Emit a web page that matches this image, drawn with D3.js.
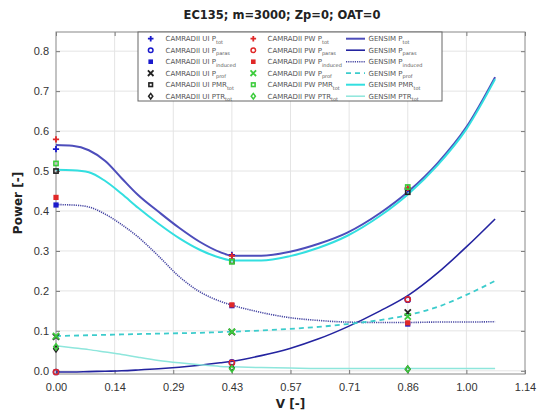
<!DOCTYPE html>
<html>
<head>
<meta charset="utf-8">
<script src="https://cdn.jsdelivr.net/npm/d3@7"></script>
<style>
  body { margin: 0; background: #fff; }
  svg { display: block; font-family: 'DejaVu Sans', sans-serif; }
</style>
</head>
<body>
<svg width="547" height="414"></svg>
<script>
// GENSIM curves, sampled along V
const curveV = [0, 0.04, 0.08, 0.12, 0.16, 0.2, 0.25, 0.3, 0.35, 0.4, 0.43, 0.5, 0.57, 0.64, 0.71, 0.79, 0.86, 0.93, 1.0, 1.07]
const gensimPtot = [0.565, 0.563, 0.552, 0.525, 0.482, 0.44, 0.398, 0.358, 0.323, 0.297, 0.288, 0.288, 0.298, 0.318, 0.346, 0.395, 0.45, 0.52, 0.61, 0.735]
const gensimParas = [-0.003, -0.003, -0.002, -0.001, 0.0, 0.002, 0.005, 0.009, 0.014, 0.02, 0.024, 0.038, 0.056, 0.08, 0.11, 0.15, 0.19, 0.245, 0.31, 0.38]
const gensimInduced = [0.416, 0.415, 0.41, 0.392, 0.366, 0.335, 0.287, 0.236, 0.198, 0.174, 0.164, 0.146, 0.133, 0.126, 0.122, 0.121, 0.121, 0.122, 0.122, 0.123]
const gensimProf = [0.087, 0.088, 0.089, 0.09, 0.091, 0.092, 0.093, 0.094, 0.095, 0.097, 0.098, 0.101, 0.105, 0.11, 0.117, 0.127, 0.14, 0.16, 0.19, 0.225]
const gensimPMR = [0.503, 0.502, 0.497, 0.475, 0.443, 0.408, 0.368, 0.332, 0.303, 0.283, 0.276, 0.276, 0.287, 0.308, 0.338, 0.388, 0.444, 0.515, 0.605, 0.73]
const gensimPTR = [0.063, 0.058, 0.053, 0.047, 0.041, 0.034, 0.026, 0.02, 0.015, 0.011, 0.01, 0.008, 0.007, 0.006, 0.006, 0.006, 0.006, 0.006, 0.006, 0.006]

// CAMRADII points
const pointV = [0, 3 / 7, 6 / 7]
const uiPtot = [0.555, 0.29, 0.455]
const uiParas = [-0.003, 0.021, 0.178]
const uiInduced = [0.415, 0.163, 0.117]
const uiProf = [0.085, 0.097, 0.146]
const uiPMR = [0.5, 0.274, 0.447]
const uiPTR = [0.055, 0.007, 0.004]
const pwPtot = [0.579, 0.288, 0.458]
const pwParas = [-0.003, 0.02, 0.179]
const pwInduced = [0.434, 0.165, 0.12]
const pwProf = [0.087, 0.098, 0.136]
const pwPMR = [0.519, 0.273, 0.46]
const pwPTR = [0.06, 0.005, 0.004]

const xTicks = [0, 1, 2, 3, 4, 5, 6, 7, 8].map(i => i / 7)
const yTicks = [0, 0.1, 0.2, 0.3, 0.4, 0.5, 0.6, 0.7, 0.8]

const lines = [
  {name: 'GENSIM P', sub: 'tot', values: gensimPtot, color: '#4d4dbb', width: 2, dash: null},
  {name: 'GENSIM P', sub: 'paras', values: gensimParas, color: '#2424a0', width: 1.6, dash: null},
  {name: 'GENSIM P', sub: 'induced', values: gensimInduced, color: '#4848a4', width: 1.6, dash: '1.2,1'},
  {name: 'GENSIM P', sub: 'prof', values: gensimProf, color: '#3ccccc', width: 1.8, dash: '5,4'},
  {name: 'GENSIM PMR', sub: 'tot', values: gensimPMR, color: '#33dfe0', width: 2, dash: null},
  {name: 'GENSIM PTR', sub: 'tot', values: gensimPTR, color: '#8ee6dc', width: 1.5, dash: null}
]

const uiSeries = [
  {name: 'CAMRADII UI P', sub: 'tot', values: uiPtot, shape: 'plus', color: '#1a1acc'},
  {name: 'CAMRADII UI P', sub: 'paras', values: uiParas, shape: 'circle', color: '#1a1acc'},
  {name: 'CAMRADII UI P', sub: 'induced', values: uiInduced, shape: 'fsquare', color: '#1a1acc'},
  {name: 'CAMRADII UI P', sub: 'prof', values: uiProf, shape: 'x', color: '#222'},
  {name: 'CAMRADII UI PMR', sub: 'tot', values: uiPMR, shape: 'square', color: '#222'},
  {name: 'CAMRADII UI PTR', sub: 'tot', values: uiPTR, shape: 'diamond', color: '#222'}
]
const pwSeries = [
  {name: 'CAMRADII PW P', sub: 'tot', values: pwPtot, shape: 'plus', color: '#e02828'},
  {name: 'CAMRADII PW P', sub: 'paras', values: pwParas, shape: 'circle', color: '#e02828'},
  {name: 'CAMRADII PW P', sub: 'induced', values: pwInduced, shape: 'fsquare', color: '#e02828'},
  {name: 'CAMRADII PW P', sub: 'prof', values: pwProf, shape: 'x', color: '#3ccc3c'},
  {name: 'CAMRADII PW PMR', sub: 'tot', values: pwPMR, shape: 'square', color: '#3ccc3c'},
  {name: 'CAMRADII PW PTR', sub: 'tot', values: pwPTR, shape: 'diamond', color: '#3ccc3c'}
]

const svg = d3.select('svg')
const margin = {top: 32, right: 22, bottom: 40, left: 56}
const width = +svg.attr('width') - margin.left - margin.right
const height = +svg.attr('height') - margin.top - margin.bottom
const g = svg.append('g').attr('transform', 'translate(' + margin.left + ',' + margin.top + ')')

const x = d3.scaleLinear().domain([0, 8 / 7]).range([0, width])
const y = d3.scaleLinear().domain([-0.008, 0.848]).range([height, 0])

// grid
g.append('g').selectAll('line').data(xTicks.slice(1, -1)).join('line')
  .attr('x1', d => x(d)).attr('x2', d => x(d)).attr('y1', 0).attr('y2', height)
  .attr('stroke', '#e4e4e4').attr('stroke-width', 1)
g.append('g').selectAll('line').data(yTicks).join('line')
  .attr('y1', d => y(d)).attr('y2', d => y(d)).attr('x1', 0).attr('x2', width)
  .attr('stroke', '#e4e4e4').attr('stroke-width', 1)

// axes with inward ticks
const axStyle = sel => {
  sel.select('.domain').remove()
  sel.selectAll('line').attr('stroke', '#777')
  sel.selectAll('text').attr('fill', '#333').style('font-size', '11px')
}
g.append('g').attr('transform', 'translate(0,' + height + ')')
  .call(d3.axisBottom(x).tickValues(xTicks).tickFormat(d3.format('.2f')).tickSizeInner(-4).tickPadding(9))
  .call(axStyle)
g.append('g')
  .call(d3.axisTop(x).tickValues(xTicks).tickSizeInner(-4).tickFormat(''))
  .call(axStyle)
g.append('g')
  .call(d3.axisLeft(y).tickValues(yTicks).tickFormat(d3.format('.1f')).tickSizeInner(-4).tickPadding(7))
  .call(axStyle)
g.append('g').attr('transform', 'translate(' + width + ',0)')
  .call(d3.axisRight(y).tickValues(yTicks).tickSizeInner(-4).tickFormat(''))
  .call(axStyle)

g.append('rect').attr('width', width).attr('height', height)
  .attr('fill', 'none').attr('stroke', '#888').attr('stroke-width', 1)

// GENSIM lines
const line = d3.line()
  .x((d, i) => x(curveV[i]))
  .y(d => y(d))
  .curve(d3.curveMonotoneX)

lines.forEach(s => {
  g.append('path')
    .datum(s.values)
    .attr('fill', 'none')
    .attr('stroke', s.color)
    .attr('stroke-width', s.width)
    .attr('stroke-dasharray', s.dash)
    .attr('d', line)
})

function drawMarker (sel, shape, color, cx, cy, r) {
  if (shape === 'plus') {
    sel.append('path').attr('d', `M${cx - r},${cy}H${cx + r}M${cx},${cy - r}V${cy + r}`)
      .attr('stroke', color).attr('stroke-width', 1.8)
  } else if (shape === 'x') {
    sel.append('path').attr('d', `M${cx - r},${cy - r}L${cx + r},${cy + r}M${cx - r},${cy + r}L${cx + r},${cy - r}`)
      .attr('stroke', color).attr('stroke-width', 1.8)
  } else if (shape === 'circle') {
    sel.append('circle').attr('cx', cx).attr('cy', cy).attr('r', r - 0.5)
      .attr('fill', 'none').attr('stroke', color).attr('stroke-width', 1.5)
  } else if (shape === 'fsquare') {
    sel.append('rect').attr('x', cx - r + 0.5).attr('y', cy - r + 0.5).attr('width', 2 * r - 1).attr('height', 2 * r - 1)
      .attr('fill', color)
  } else if (shape === 'square') {
    sel.append('rect').attr('x', cx - r + 1).attr('y', cy - r + 1).attr('width', 2 * r - 2).attr('height', 2 * r - 2)
      .attr('fill', 'none').attr('stroke', color).attr('stroke-width', 1.6)
  } else if (shape === 'diamond') {
    sel.append('path').attr('d', `M${cx},${cy - r}L${cx + r * 0.75},${cy}L${cx},${cy + r}L${cx - r * 0.75},${cy}Z`)
      .attr('fill', 'none').attr('stroke', color).attr('stroke-width', 1.5)
  }
}

const marks = g.append('g')
uiSeries.concat(pwSeries).forEach(s => {
  s.values.forEach((v, i) => drawMarker(marks, s.shape, s.color, x(pointV[i]), y(v), 3.1))
})

// legend
const lg = svg.append('g').attr('transform', 'translate(138,32)')
lg.append('rect').attr('width', 304).attr('height', 69)
  .attr('fill', '#fff').attr('stroke', '#666').attr('stroke-width', 1)

function legendLabel (sel, xPos, yPos, s) {
  const t = sel.append('text').attr('x', xPos).attr('y', yPos + 2.5)
    .attr('fill', '#555').style('font-size', '7px')
  t.append('tspan').text(s.name)
  t.append('tspan').attr('dy', 2.5).style('font-size', '5px').text(s.sub)
}

uiSeries.forEach((s, i) => {
  const yy = 6.7 + i * 11.5
  drawMarker(lg, s.shape, s.color, 12.7, yy, 2.8)
  legendLabel(lg, 27.5, yy, s)
})
pwSeries.forEach((s, i) => {
  const yy = 6.7 + i * 11.5
  drawMarker(lg, s.shape, s.color, 115.3, yy, 2.8)
  legendLabel(lg, 129.5, yy, s)
})
lines.forEach((s, i) => {
  const yy = 6.7 + i * 11.5
  lg.append('line').attr('x1', 208).attr('x2', 227).attr('y1', yy).attr('y2', yy)
    .attr('stroke', s.color).attr('stroke-width', s.width).attr('stroke-dasharray', s.dash)
  legendLabel(lg, 230.5, yy, s)
})

// title and axis labels
svg.append('text').attr('x', 282).attr('y', 19).attr('text-anchor', 'middle')
  .attr('fill', '#222').style('font-size', '11.5px').style('font-weight', 'bold')
  .text('EC135; m=3000; Zp=0; OAT=0')
svg.append('text').attr('transform', 'translate(22,' + (margin.top + height / 2) + ') rotate(-90)')
  .attr('text-anchor', 'middle').attr('fill', '#222')
  .style('font-size', '12px').style('font-weight', 'bold')
  .text('Power [-]')
svg.append('text').attr('x', margin.left + width / 2).attr('y', 408).attr('text-anchor', 'middle')
  .attr('fill', '#222').style('font-size', '12px').style('font-weight', 'bold')
  .text('V [-]')
</script>
</body>
</html>
